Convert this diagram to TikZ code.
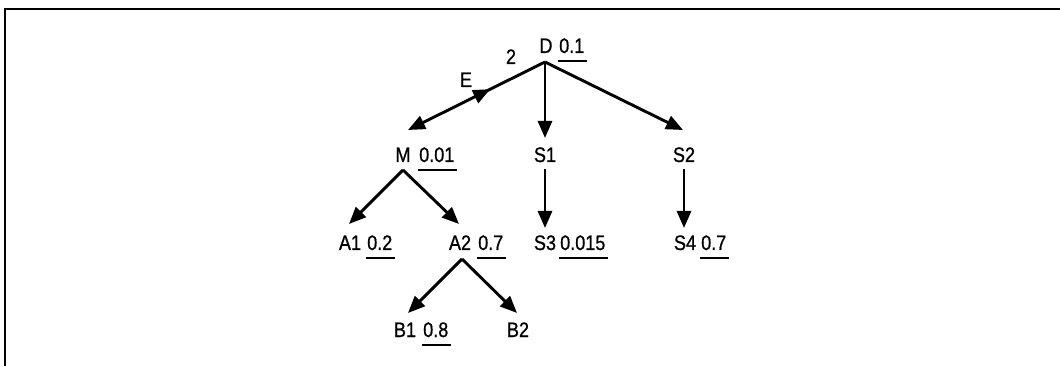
\documentclass[tikz,border=0pt]{standalone}
\usepackage{fontspec}
\setmainfont{Liberation Sans}
\newfontfamily\narrowsans[FakeStretch=0.86,FakeBold=0.8]{Liberation Sans}
\usetikzlibrary{arrows.meta,decorations.markings}
\begin{document}
\begin{tikzpicture}[x=1pt,y=-1pt,
  lbl/.style={anchor=base,inner sep=0pt,font=\narrowsans\fontsize{21}{24}\selectfont},
  val/.style={anchor=base west,inner sep=0pt,font=\narrowsans\fontsize{21}{24}\selectfont},
  arr/.style={line width=2.9pt,-{Triangle[length=17pt,width=14pt]}},
  ul/.style={line width=1.3pt},
  frame/.style={line width=2.8pt},
  midarr/.style={postaction={decorate},decoration={markings,
     mark=at position 0.40 with {\arrowreversed{Triangle[length=17pt,width=14pt]}}}}]
\useasboundingbox (0,0) rectangle (1060,366);
\draw[frame] (5,368) -- (5,9) -- (1062,9);
% nodes
\node[lbl] (D) at (546,53) {D};
\node[val] (Dv) at (559,53) {0.1};
\node[lbl] (n2) at (511,64) {2};
\node[lbl] (E) at (466,87) {E};
\node[lbl] (M) at (403,162) {M};
\node[val] (Mv) at (419,162) {0.01};
\node[lbl] (S1) at (545,162) {S1};
\node[lbl] (S2) at (684,162) {S2};
\node[lbl] (A1) at (350,250) {A1};
\node[val] (A1v) at (367,250) {0.2};
\node[lbl] (A2) at (460,250) {A2};
\node[val] (A2v) at (478,250) {0.7};
\node[lbl] (S3) at (545,250) {S3};
\node[val] (S3v) at (560,250) {0.015};
\node[lbl] (S4) at (685,250) {S4};
\node[val] (S4v) at (701,250) {0.7};
\node[lbl] (B1) at (405,337) {B1};
\node[val] (B1v) at (423,337) {0.8};
\node[lbl] (B2) at (518,337) {B2};
% underlines
\foreach \v in {Dv,Mv,A1v,A2v,S3v,S4v,B1v}
  \draw[ul] ([shift={(-1pt,-8pt)}]\v.base west) -- ([shift={(2pt,-8pt)}]\v.base east);
% connectors
\draw[arr,midarr] ([shift={(-1pt,-9pt)}]D.base) -- ([shift={(5pt,32pt)}]M.base);
\draw[arr] ([shift={(-1pt,-9pt)}]D.base) -- ([yshift=24pt]S1.base);
\draw[arr] ([shift={(-1pt,-9pt)}]D.base) -- ([shift={(-1pt,32pt)}]S2.base);
\draw[arr] ([yshift=-8pt]M.base) -- ([shift={(-1pt,26pt)}]A1.base);
\draw[arr] ([yshift=-8pt]M.base) -- ([shift={(-1pt,26pt)}]A2.base);
\draw[arr] ([yshift=-7pt]S1.base) -- ([yshift=22pt]S3.base);
\draw[arr] ([yshift=-7pt]S2.base) -- ([shift={(-1pt,22pt)}]S4.base);
\draw[arr] ([shift={(2pt,-9pt)}]A2.base) -- ([shift={(3pt,24pt)}]B1.base);
\draw[arr] ([shift={(2pt,-9pt)}]A2.base) -- ([shift={(-1pt,24pt)}]B2.base);
\end{tikzpicture}
\end{document}
